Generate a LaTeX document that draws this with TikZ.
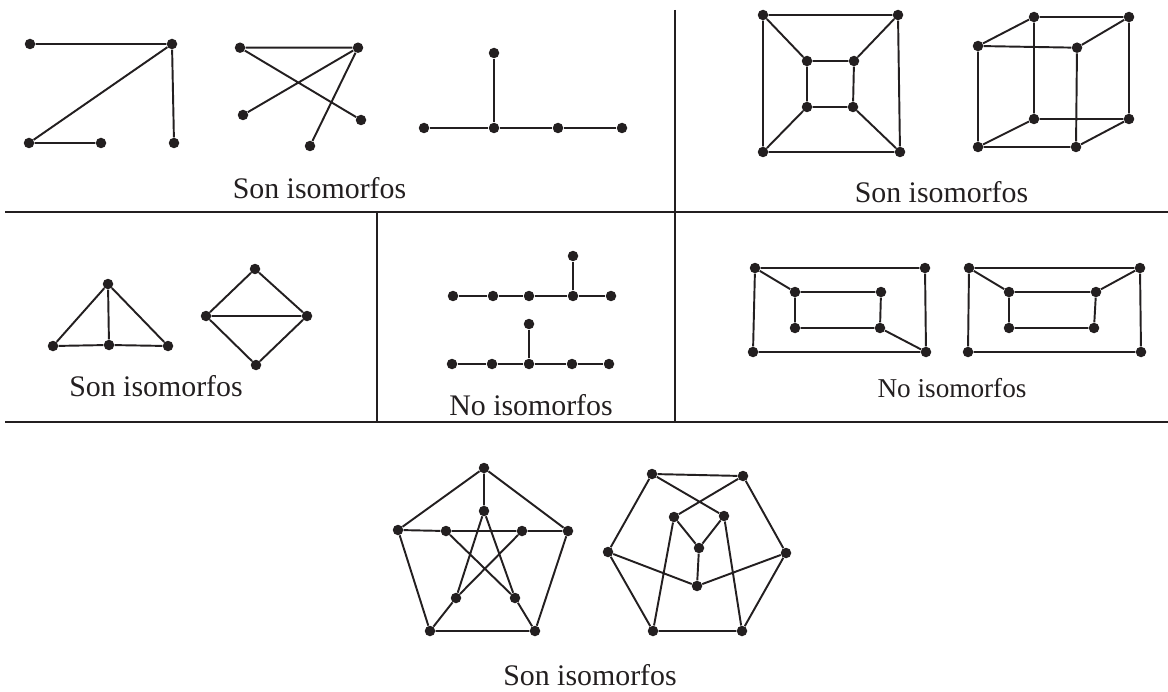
\documentclass[tikz,border=0pt]{standalone}
\usepackage{fontspec}
\setmainfont{Liberation Serif}
\definecolor{ink}{RGB}{35,31,32}
\tikzset{
  dot/.style={circle, fill=ink, draw=none, inner sep=0pt, minimum size=0.21cm},
  edge/.style={draw=ink, line width=1.1pt},
  frame/.style={draw=ink, line width=1.5pt},
  lbl/.style={anchor=base, inner sep=0pt, text=ink, font=\fontsize{17}{20}\selectfont},
  lblsmall/.style={lbl, font=\fontsize{15.5}{18}\selectfont},
}
\begin{document}
\begin{tikzpicture}[x=0.02cm, y=-0.02cm]
\useasboundingbox (0,0) rectangle (1168,692);
% frame lines
\draw[frame] (675,10) -- (675,212);
\draw[frame] (5,212) -- (1168,212);
\draw[frame] (377,212) -- (377,422);
\draw[frame] (675,212) -- (675,422);
\draw[frame] (5,422) -- (1168,422);

% ---- top-left: graph A
\node[dot] (a1) at (30,44) {};
\node[dot] (a2) at (172,44) {};
\node[dot] (a3) at (29,143) {};
\node[dot] (a4) at (101,143) {};
\node[dot] (a5) at (174,143) {};
\draw[edge] (a1)--(a2) (a2)--(a3) (a3)--(a4) (a2)--(a5);
% graph B
\node[dot] (b1) at (240,47.7) {};
\node[dot] (b2) at (358,47.7) {};
\node[dot] (b3) at (243,115) {};
\node[dot] (b4) at (361,120) {};
\node[dot] (b5) at (310,146) {};
\draw[edge] (b1)--(b2) (b1)--(b4) (b2)--(b3) (b2)--(b5);
% graph C
\node[dot] (c1) at (494,53) {};
\node[dot] (c2) at (424,128) {};
\node[dot] (c3) at (494,128) {};
\node[dot] (c4) at (558,128) {};
\node[dot] (c5) at (622,128) {};
\draw[edge] (c1)--(c3) (c2)--(c3) (c3)--(c4) (c4)--(c5);
\node[lbl] (l1) at (319.5,199) {Son isomorfos};

% ---- top-right: square in square
\node[dot] (s1) at (763,15) {};
\node[dot] (s2) at (898,15) {};
\node[dot] (s3) at (900,152) {};
\node[dot] (s4) at (763,152) {};
\node[dot] (t1) at (807,61) {};
\node[dot] (t2) at (854,61) {};
\node[dot] (t3) at (853,107) {};
\node[dot] (t4) at (807,107) {};
\draw[edge] (s1)--(s2) (s2)--(s3) (s3)--(s4) (s4)--(s1)
            (t1)--(t2) (t2)--(t3) (t3)--(t4) (t4)--(t1)
            (s1)--(t1) (s2)--(t2) (s3)--(t3) (s4)--(t4);
% cube
\node[dot] (f1) at (978,46) {};
\node[dot] (f2) at (1077,47.7) {};
\node[dot] (f3) at (1076,147) {};
\node[dot] (f4) at (978,147) {};
\node[dot] (k1) at (1034,17) {};
\node[dot] (k2) at (1129,17) {};
\node[dot] (k3) at (1129,119) {};
\node[dot] (k4) at (1034,119) {};
\draw[edge] (f1)--(f2) (f2)--(f3) (f3)--(f4) (f4)--(f1)
            (k1)--(k2) (k2)--(k3) (k3)--(k4) (k4)--(k1)
            (f1)--(k1) (f2)--(k2) (f3)--(k3) (f4)--(k4);
\node[lbl] (l2) at (941.5,203) {Son isomorfos};

% ---- middle-left: triangle and diamond
\node[dot] (p1) at (108,284) {};
\node[dot] (p2) at (53,346) {};
\node[dot] (p3) at (109,345) {};
\node[dot] (p4) at (168,346) {};
\draw[edge] (p1)--(p2) (p1)--(p3) (p1)--(p4) (p2)--(p3) (p3)--(p4);
\node[dot] (d1) at (255,269) {};
\node[dot] (d2) at (206,316) {};
\node[dot] (d3) at (307,316) {};
\node[dot] (d4) at (256,365) {};
\draw[edge] (d1)--(d2) (d1)--(d3) (d2)--(d3) (d2)--(d4) (d3)--(d4);
\node[lbl] (l3) at (156,396) {Son isomorfos};

% ---- middle: two trees
\node[dot] (u1) at (453,296) {};
\node[dot] (u2) at (493,296) {};
\node[dot] (u3) at (529,296) {};
\node[dot] (u4) at (573,296) {};
\node[dot] (u5) at (611,296) {};
\node[dot] (u6) at (573,256) {};
\draw[edge] (u1)--(u2) (u2)--(u3) (u3)--(u4) (u4)--(u5) (u4)--(u6);
\node[dot] (v1) at (452,364) {};
\node[dot] (v2) at (492,364) {};
\node[dot] (v3) at (529,364) {};
\node[dot] (v4) at (572,364) {};
\node[dot] (v5) at (609,364) {};
\node[dot] (v6) at (529,324) {};
\draw[edge] (v1)--(v2) (v2)--(v3) (v3)--(v4) (v4)--(v5) (v3)--(v6);
\node[lbl] (l4) at (531,415) {No isomorfos};

% ---- middle-right: rectangles
\node[dot] (r1) at (755,268) {};
\node[dot] (r2) at (925,268) {};
\node[dot] (r3) at (926,352) {};
\node[dot] (r4) at (753,352) {};
\node[dot] (q1) at (795,292) {};
\node[dot] (q2) at (881,292) {};
\node[dot] (q3) at (880,328) {};
\node[dot] (q4) at (795,328) {};
\draw[edge] (r1)--(r2) (r2)--(r3) (r3)--(r4) (r4)--(r1)
            (q1)--(q2) (q2)--(q3) (q3)--(q4) (q4)--(q1)
            (r1)--(q1) (r3)--(q3);
\node[dot] (R1) at (969,268) {};
\node[dot] (R2) at (1140,268) {};
\node[dot] (R3) at (1141,352) {};
\node[dot] (R4) at (968,352) {};
\node[dot] (Q1) at (1009,292) {};
\node[dot] (Q2) at (1096,292) {};
\node[dot] (Q3) at (1094,328) {};
\node[dot] (Q4) at (1009,328) {};
\draw[edge] (R1)--(R2) (R2)--(R3) (R3)--(R4) (R4)--(R1)
            (Q1)--(Q2) (Q2)--(Q3) (Q3)--(Q4) (Q4)--(Q1)
            (R1)--(Q1) (R2)--(Q2);
\node[lblsmall] (l5) at (952,397) {No isomorfos};

% ---- bottom: Petersen graph
\node[dot] (o1) at (484,468) {};
\node[dot] (o2) at (568,531) {};
\node[dot] (o3) at (535,631) {};
\node[dot] (o4) at (430,631) {};
\node[dot] (o5) at (398,530) {};
\node[dot] (i1) at (484,511) {};
\node[dot] (i2) at (522,531) {};
\node[dot] (i3) at (515,598) {};
\node[dot] (i4) at (456,598) {};
\node[dot] (i5) at (446,531) {};
\draw[edge] (o1)--(o2) (o2)--(o3) (o3)--(o4) (o4)--(o5) (o5)--(o1)
            (o1)--(i1) (o2)--(i2) (o3)--(i3) (o4)--(i4) (o5)--(i5)
            (i1)--(i3) (i1)--(i4) (i2)--(i5) (i2)--(i4) (i5)--(i3);
% second drawing
\node[dot] (h1) at (652,474) {};
\node[dot] (h2) at (743,476) {};
\node[dot] (h3) at (786,553) {};
\node[dot] (h4) at (742,631) {};
\node[dot] (h5) at (653,631) {};
\node[dot] (h6) at (608,552) {};
\node[dot] (j1) at (674,517) {};
\node[dot] (j2) at (724,516) {};
\node[dot] (j3) at (699,548) {};
\node[dot] (j4) at (697,586) {};
\draw[edge] (h1)--(h2) (h2)--(h3) (h3)--(h4) (h4)--(h5) (h5)--(h6) (h6)--(h1)
            (h1)--(j2) (h2)--(j1) (j1)--(j3) (j2)--(j3) (j3)--(j4)
            (h6)--(j4) (h3)--(j4) (j1)--(h5) (j2)--(h4);
\node[lbl] (l6) at (590,685) {Son isomorfos};
\end{tikzpicture}
\end{document}
